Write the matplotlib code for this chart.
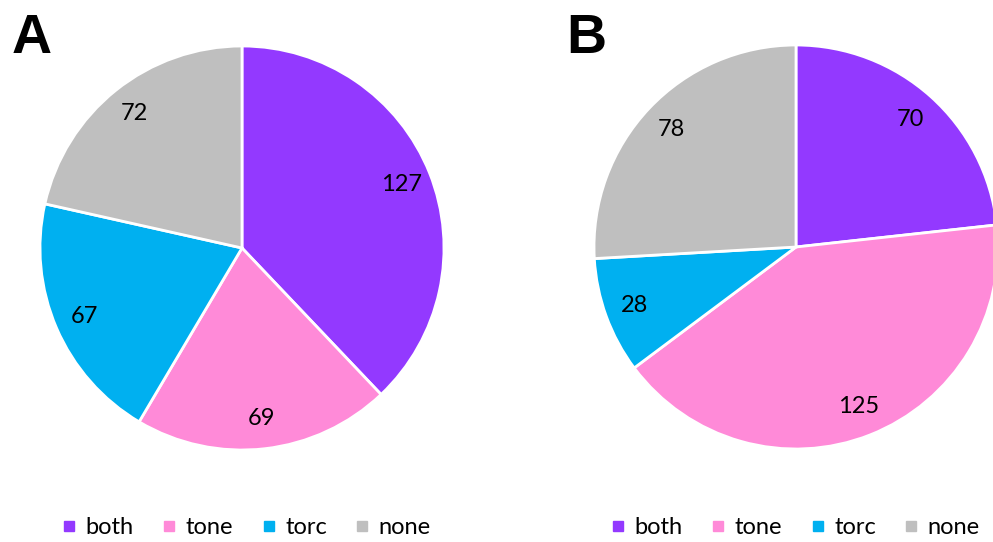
import matplotlib.pyplot as plt
from matplotlib.lines import Line2D

plt.rcParams['font.family'] = ['Lato', 'DejaVu Sans']

categories = ['both', 'tone', 'torc', 'none']
colors = ['#9339FF', '#FF8AD8', '#00B0F0', '#BFBFBF']
counts_a = [127, 69, 67, 72]
counts_b = [70, 125, 28, 78]
panels = ['A', 'B']

fig = plt.figure(figsize=(9.93, 5.42), dpi=100)

# pie axes placed by pixel centre / radius
W, H = 993, 542
def pie_axes(cx, cy, r):
    return fig.add_axes([(cx - r) / W, (H - cy - r) / H, 2 * r / W, 2 * r / H])

axes = [pie_axes(242, 248, 202), pie_axes(796, 247, 202)]

for ax, counts, name in zip(axes, [counts_a, counts_b], panels):
    ax.pie(counts, colors=colors, startangle=90, counterclock=False,
           autopct=lambda p, c=counts: '%d' % round(p * sum(c) / 100.0),
           pctdistance=0.85, radius=1.0,
           wedgeprops=dict(edgecolor='white', linewidth=2.0),
           textprops=dict(fontsize=17, color='black'))
    ax.set_xlim(-1.0, 1.0)
    ax.set_ylim(-1.0, 1.0)
    ax.set_aspect('equal')

fig.text(12 / W, 1 - 53 / H, 'A', fontsize=40, fontweight='bold',
         family='Liberation Sans', ha='left', va='baseline')
fig.text(566 / W, 1 - 53 / H, 'B', fontsize=40, fontweight='bold',
         family='Liberation Sans', ha='left', va='baseline')

handles = [Line2D([0], [0], marker='s', linestyle='none', markersize=7.5,
                  markerfacecolor=c, markeredgecolor=c) for c in colors]
for x in (247 / W, 796 / W):
    fig.legend(handles, categories, loc='center', bbox_to_anchor=(x, 1 - 528 / H),
               ncol=4, frameon=False, fontsize=17, handlelength=0.5,
               handletextpad=0.45, columnspacing=1.25)

fig.savefig('out.png', dpi=100)
